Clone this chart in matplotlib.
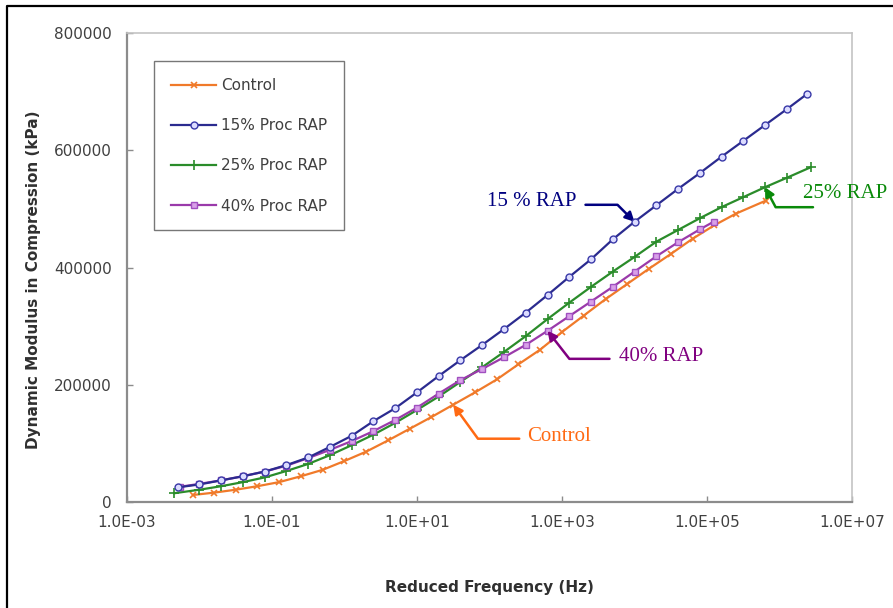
import numpy as np
import matplotlib
matplotlib.use("Agg")
import matplotlib.pyplot as plt
from matplotlib.lines import Line2D

# log10 of reduced frequency (Hz) and dynamic modulus (kPa)
ctrl_logf = [-2.09, -1.8, -1.5, -1.2, -0.9, -0.6, -0.3, 0.0, 0.3, 0.6, 0.9, 1.2, 1.5, 1.8,
             2.1, 2.4, 2.7, 3.0, 3.3, 3.6, 3.9, 4.2, 4.5, 4.8, 5.1, 5.4, 5.81]
ctrl_e = [12000, 16000, 21000, 27000, 34000, 44000, 55000, 70000, 86000, 105000, 125000,
          145000, 166000, 187000, 209000, 235000, 260000, 290000, 318000, 346000, 372000,
          398000, 423000, 449000, 472000, 492000, 514000]

rap15_logf = [-2.3, -2.0, -1.7, -1.4, -1.1, -0.8, -0.5, -0.2, 0.1, 0.4, 0.7, 1.0, 1.3, 1.6,
              1.9, 2.2, 2.5, 2.8, 3.1, 3.4, 3.7, 4.0, 4.3, 4.6, 4.9, 5.2, 5.5, 5.8, 6.1, 6.38]
rap15_e = [25000, 30000, 37000, 44000, 52000, 63000, 76000, 94000, 113000, 138000, 160000,
           187000, 215000, 242000, 268000, 295000, 323000, 353000, 384000, 414000, 448000,
           478000, 506000, 534000, 561000, 589000, 616000, 643000, 670000, 696000]

rap25_logf = [-2.35, -2.0, -1.7, -1.4, -1.1, -0.8, -0.5, -0.2, 0.1, 0.4, 0.7, 1.0, 1.3, 1.6,
              1.9, 2.2, 2.5, 2.8, 3.1, 3.4, 3.7, 4.0, 4.3, 4.6, 4.9, 5.2, 5.5, 5.8, 6.1, 6.43]
rap25_e = [15000, 21000, 27000, 34000, 42000, 53000, 65000, 80000, 97000, 115000, 135000,
           157000, 180000, 205000, 230000, 256000, 283000, 312000, 340000, 367000, 393000,
           418000, 444000, 464000, 484000, 503000, 520000, 537000, 553000, 571000]

rap40_logf = [-2.27, -2.0, -1.7, -1.4, -1.1, -0.8, -0.5, -0.2, 0.1, 0.4, 0.7, 1.0, 1.3, 1.6,
              1.9, 2.2, 2.5, 2.8, 3.1, 3.4, 3.7, 4.0, 4.3, 4.6, 4.9, 5.09]
rap40_e = [26000, 31000, 37000, 44000, 52000, 62000, 75000, 89000, 104000, 121000, 140000,
           161000, 185000, 208000, 227000, 247000, 268000, 292000, 317000, 342000, 367000,
           393000, 419000, 443000, 465000, 478000]

xticks = [1e-3, 1e-1, 1e1, 1e3, 1e5, 1e7]
xtick_labels = ["1.0E-03", "1.0E-01", "1.0E+01", "1.0E+03", "1.0E+05", "1.0E+07"]
yticks = [0, 200000, 400000, 600000, 800000]

c_ctrl = "#f07a2a"
c_15 = "#2b2b8f"
c_25 = "#2a8c2a"
c_40 = "#9a3aaa"

plt.rcParams["font.family"] = "DejaVu Sans"

fig = plt.figure(figsize=(8.93, 6.08), dpi=100)
ax = fig.add_axes([0.1422, 0.1743, 0.8119, 0.7714])

f_ctrl = 10.0 ** np.array(ctrl_logf)
f_15 = 10.0 ** np.array(rap15_logf)
f_25 = 10.0 ** np.array(rap25_logf)
f_40 = 10.0 ** np.array(rap40_logf)

ax.plot(f_ctrl, ctrl_e, color=c_ctrl, lw=1.6, marker="x", ms=5, mew=1.2, label="Control", zorder=3)
ax.plot(f_15, rap15_e, color=c_15, lw=1.6, marker="o", ms=5, mfc="#dcdcff", mec="#3a3aa8",
        mew=1, label="15% Proc RAP", zorder=4)
ax.plot(f_25, rap25_e, color=c_25, lw=1.6, marker="+", ms=7, mew=1.2, label="25% Proc RAP", zorder=3)
ax.plot(f_40, rap40_e, color=c_40, lw=1.6, marker="s", ms=4.5, mfc="#d8a0e8", mec="#a050c0",
        mew=1, label="40% Proc RAP", zorder=3)

ax.set_xscale("log")
ax.set_xlim(1e-3, 1e7)
ax.set_ylim(0, 800000)
ax.set_xticks(xticks)
ax.set_xticklabels(xtick_labels)
ax.xaxis.set_minor_locator(matplotlib.ticker.NullLocator())
ax.set_yticks(yticks)
ax.set_yticklabels([str(v) for v in yticks])
ax.tick_params(axis="both", direction="in", length=4, width=1, color="#8c8c8c",
               labelsize=11, labelcolor="#404040")
ax.tick_params(axis="x", pad=9)
ax.tick_params(axis="y", pad=11)

for s in ["left", "bottom"]:
    ax.spines[s].set_color("#8c8c8c")
    ax.spines[s].set_linewidth(1.6)
for s in ["top", "right"]:
    ax.spines[s].set_color("#c4c4c4")
    ax.spines[s].set_linewidth(1.2)

ax.set_xlabel("Reduced Frequency (Hz)", fontsize=11, fontweight="bold", color="#303030")
ax.set_ylabel("Dynamic Modulus in Compression (kPa)", fontsize=11, fontweight="bold", color="#303030")
ax.xaxis.set_label_coords(0.5, -0.167)
ax.yaxis.set_label_coords(-0.118, 0.473)

leg = ax.legend(loc="upper left", bbox_to_anchor=(0.037, 0.940), borderaxespad=0,
                fontsize=11, labelspacing=1.65, handlelength=3.0, handletextpad=0.3,
                borderpad=1.1, fancybox=False, framealpha=1, edgecolor="#777777")
leg.get_frame().set_linewidth(1.0)
for t in leg.get_texts():
    t.set_color("#404040")

serif = "Liberation Serif"


def label_curve(ax, x, y, text, color, arrow_start, text_off, ha, angle):
    ax.annotate("", xy=(x, y), xytext=arrow_start, textcoords="offset pixels",
                arrowprops=dict(arrowstyle="-|>,head_length=0.55,head_width=0.28", lw=1.8,
                                color=color, shrinkA=0, shrinkB=0,
                                connectionstyle="angle,angleA=0,angleB=%d,rad=0" % angle))
    ax.annotate(text, xy=(x, y), xytext=text_off, textcoords="offset pixels",
                ha=ha, va="center", fontsize=15, family=serif, color=color)


label_curve(ax, f_15[21], rap15_e[21], "15 % RAP", "#000080", (-49, 17), (-58, 20), "right", 135)
label_curve(ax, f_25[27], rap25_e[27], "25% RAP", "#0a8a0a", (48, -20), (38, -6), "left", 118)
label_curve(ax, f_40[17], rap40_e[17], "40% RAP", "#800080", (62, -28), (71, -26), "left", 128)
label_curve(ax, f_ctrl[12], ctrl_e[12], "Control", "#ff6a13", (66, -34), (74, -32), "left", 126)

# outer frame (top and left edges visible)
fig.add_artist(Line2D([7 / 893, 7 / 893, 1.0], [0.0, 1 - 6 / 608, 1 - 6 / 608],
                      transform=fig.transFigure, color="black", lw=1.6))

fig.savefig("out.png", dpi=100)
